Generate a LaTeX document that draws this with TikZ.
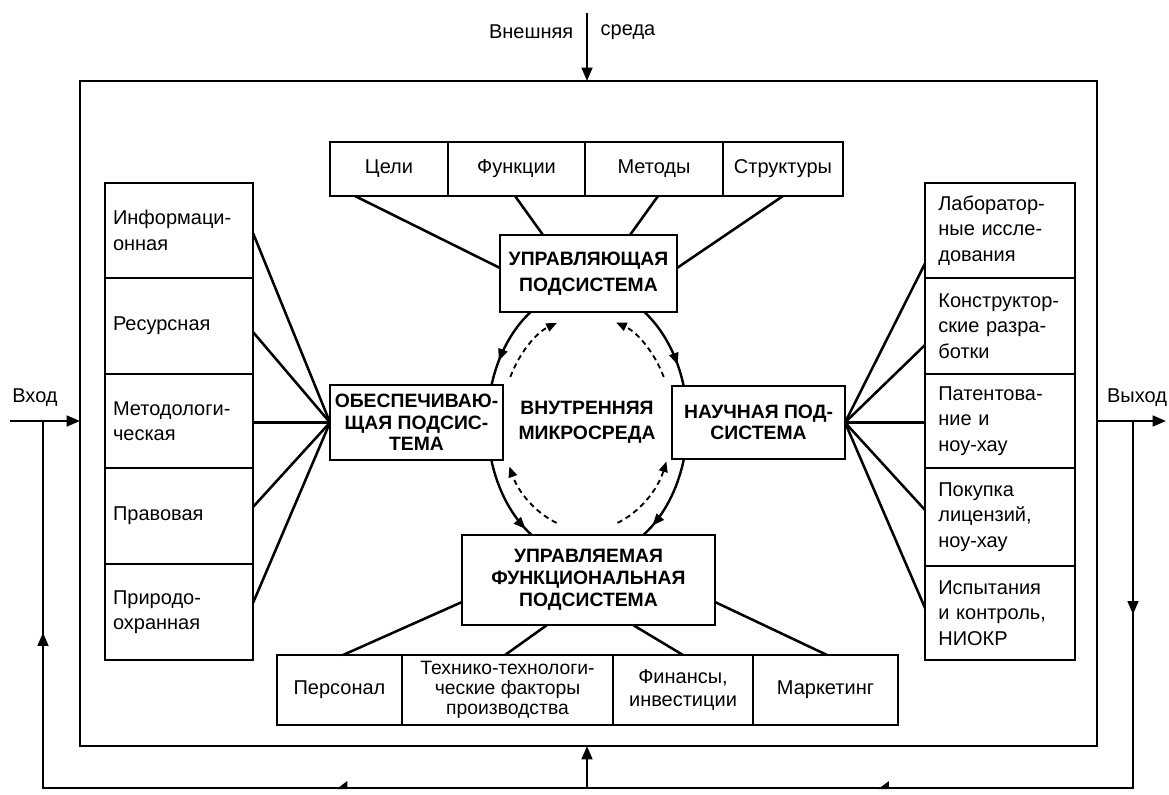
\documentclass[tikz,border=0pt]{standalone}
\usepackage{fontspec}
\setmainfont{Liberation Sans}
\usetikzlibrary{arrows.meta,calc,decorations.markings}
\newcommand\lbl{\fontsize{15}{19}\selectfont}
\newcommand\capf[1]{\fontsize{14.5}{#1}\selectfont\bfseries}

\begin{document}
\begin{tikzpicture}[x=0.75pt,y=0.75pt,
  box/.style={draw,line width=2.1pt,fill=white,inner sep=1pt,outer sep=0pt,align=center},
  sz/.style 2 args={minimum width=#1*0.75pt,minimum height=#2*0.75pt},
  lcol/.style={box,font=\lbl,align=left,text width=99pt,inner xsep=6pt,minimum width=111pt},
  rcol/.style={box,font=\lbl,align=left,text width=92.5pt,inner xsep=10pt,minimum width=112.5pt},
  conn/.style={line width=1.9pt},
  arr/.style={-{Triangle[length=10pt,width=8pt]}},
  ring/.style={line width=1.8pt},
  dring/.style={line width=1.4pt,dash pattern=on 4pt off 3pt,-{Triangle[length=8pt,width=6.5pt]}},
  midtip/.style={postaction={decorate},decoration={markings,
      mark=at position #1 with {\arrow{Triangle[length=9pt,width=7pt]}}}}
]
\useasboundingbox (0,0) rectangle (1169,-794);

% system boundary
\node[box,fill=none,sz={1017}{665}] (outer) at (588.5,-413.5) {};

% managing subsystem and its elements
\node[box,sz={118}{54},font=\lbl] (celi)   at (389,-169)   {Цели};
\node[box,sz={137}{54},font=\lbl] (funk)   at (516.5,-169) {Функции};
\node[box,sz={138}{54},font=\lbl] (metod)  at (654,-169)   {Методы};
\node[box,sz={120}{54},font=\lbl] (strukt) at (783,-169)   {Структуры};
\node[box,sz={177}{77},font={\capf{20}}] (upr) at (588.5,-273.5) {УПРАВЛЯЮЩАЯ\\ПОДСИСТЕМА};

% supporting subsystem
\node[lcol,minimum height=95*0.75pt] (inf)  at (179,-230.5) {Информаци-\\онная};
\node[lcol,minimum height=96*0.75pt] (res)  at (179,-326)   {Ресурсная};
\node[lcol,minimum height=94*0.75pt] (met)  at (179,-421)   {Методологи-\\ческая};
\node[lcol,minimum height=96*0.75pt] (prav) at (179,-516)   {Правовая};
\node[lcol,minimum height=96*0.75pt] (prir) at (179,-612)   {Природо-\\охранная};
\node[box,sz={173}{75},font={\capf{16}}] (obesp) at (416.5,-422.5) {ОБЕСПЕЧИВАЮ-\\ЩАЯ ПОДСИС-\\ТЕМА};

% scientific subsystem
\node[box,sz={173}{73},font={\capf{15.5}}] (nauch) at (758.5,-422.5) {НАУЧНАЯ ПОД-\\СИСТЕМА};
\node[rcol,minimum height=95*0.75pt] (lab) at (1000,-230.5) {Лаборатор-\\ные иссле-\\дования};
\node[rcol,minimum height=96*0.75pt] (kon) at (1000,-326)   {Конструктор-\\ские разра-\\ботки};
\node[rcol,minimum height=94*0.75pt] (pat) at (1000,-421)   {Патентова-\\ние и\\ноу-хау};
\node[rcol,minimum height=98*0.75pt] (pok) at (1000,-517)   {Покупка\\лицензий,\\ноу-хау};
\node[rcol,minimum height=94*0.75pt] (isp) at (1000,-613)   {Испытания\\и контроль,\\НИОКР};

% managed functional subsystem
\node[box,sz={253}{90},font={\capf{16.5}}] (upravl) at (588.5,-580) {УПРАВЛЯЕМАЯ\\ФУНКЦИОНАЛЬНАЯ\\ПОДСИСТЕМА};
\node[box,sz={125}{70},font=\lbl] (pers) at (339.5,-690) {Персонал};
\node[box,sz={211}{70},font={\fontsize{14.5}{15}\selectfont}] (tech) at (507.5,-690) {Технико-технологи-\\ческие факторы\\производства};
\node[box,sz={140}{70},font={\fontsize{15}{17.5}\selectfont}] (fin) at (683,-690) {Финансы,\\инвестиции};
\node[box,sz={145}{70},font=\lbl] (mark) at (825.5,-690) {Маркетинг};

% inner environment
\node[font={\capf{19}},align=center] (micro) at (587,-422) {ВНУТРЕННЯЯ\\МИКРОСРЕДА};

% links to the managing subsystem
\draw[conn] ($(celi.south)+(-34,0)$)  -- ($(upr.west)+(0,5.5)$);
\draw[conn] ($(funk.south)+(-1.5,0)$) -- ($(upr.north)+(-45.5,0)$);
\draw[conn] ($(metod.south)+(4,0)$)   -- ($(upr.north)+(41.5,0)$);
\draw[conn] (strukt.south)            -- ($(upr.east)+(0,5.5)$);

% links to the supporting subsystem
\draw[conn] ($(inf.east)+(0,-2.5)$) -- (obesp.west);
\draw[conn] ($(res.east)+(0,-6)$)   -- (obesp.west);
\draw[conn] (met.east |- obesp.west) -- (obesp.west);
\draw[conn] ($(prav.east)+(0,9)$)   -- (obesp.west);
\draw[conn] ($(prir.east)+(0,9)$)   -- (obesp.west);

% links to the scientific subsystem
\draw[conn] (nauch.east) -- ($(lab.west)+(0,-33)$);
\draw[conn] (nauch.east) -- ($(kon.west)+(0,-19)$);
\draw[conn] (nauch.east) -- (pat.west |- nauch.east);
\draw[conn] (nauch.east) -- ($(pok.west)+(0,7)$);
\draw[conn] (nauch.east) -- ($(isp.west)+(0,5)$);

% links to the managed subsystem
\draw[conn] ($(upravl.west)+(0,-22)$)    -- ($(pers.north)+(3.5,0)$);
\draw[conn] ($(upravl.south)+(-41.5,0)$) -- ($(tech.north)+(-2.5,0)$);
\draw[conn] ($(upravl.south)+(44.5,0)$)  -- (fin.north);
\draw[conn] ($(upravl.east)+(0,-22)$)    -- ($(mark.north)+(1.5,0)$);

% interaction ring: solid outer arcs
\coordinate (ctr) at (587.5,-423);
\draw[ring,midtip=0.7]  ($(ctr)+(124.7:100 and 135)$) arc[start angle=124.7,end angle=163.7,x radius=100,y radius=135];
\draw[ring,midtip=0.75] ($(ctr)+(55.3:100 and 135)$)  arc[start angle=55.3,end angle=16.3,x radius=100,y radius=135];
\draw[ring,midtip=0.9]  ($(ctr)+(195.9:100 and 135)$) arc[start angle=195.9,end angle=236.1,x radius=100,y radius=135];
\draw[ring,midtip=0.85] ($(ctr)+(344.5:100 and 135)$) arc[start angle=344.5,end angle=303.9,x radius=100,y radius=135];

% interaction ring: dashed inner arcs
\coordinate (ctrd) at (587,-423);
\draw[dring] ($(ctrd)+(154.5:85 and 107)$) arc[start angle=154.5,end angle=110.7,x radius=85,y radius=107];
\draw[dring] ($(ctrd)+(25.5:85 and 107)$)  arc[start angle=25.5,end angle=70,x radius=85,y radius=107];
\draw[dring] ($(ctrd)+(249:85 and 107)$)   arc[start angle=249,end angle=204,x radius=85,y radius=107];
\draw[dring] ($(ctrd)+(291:85 and 107)$)   arc[start angle=291,end angle=339,x radius=85,y radius=107];

% external environment
\coordinate (envtop) at (587,-13);
\draw[conn,arr] (envtop) -- (envtop |- outer.north);
\node[font=\lbl,anchor=east] (ext1) at (578,-32) {Внешняя};
\node[font=\lbl,anchor=west] (ext2) at (596,-32) {среда};

% input and output
\coordinate (inl) at (10,-421);
\coordinate (outr) at (1166,-421);
\draw[conn,arr] (inl) -- (inl -| outer.west);
\draw[conn,arr] (outr -| outer.east) -- (outr);
\node[font=\lbl] (vhod) at (35,-398) {Вход};
\node[font=\lbl] (vyhod) at (1137,-398) {Выход};

% feedback loop
\coordinate (fbr)  at (1133,-421);
\coordinate (fbbr) at (1133,-788);
\coordinate (fbbl) at (43,-788);
\coordinate (fbl)  at (43,-421);
\coordinate (fbc)  at (587,-788);
\draw[conn,postaction={decorate},decoration={markings,
    mark=at position 0.106 with {\arrow{Triangle[length=10pt,width=8pt]}},
    mark=at position 0.341 with {\arrow{Triangle[right,length=7pt,width=10pt]}},
    mark=at position 0.638 with {\arrow{Triangle[right,length=7pt,width=10pt]}},
    mark=at position 0.884 with {\arrow{Triangle[length=10pt,width=8pt]}}}]
  (fbr) -- (fbbr) -- (fbbl) -- (fbl);
\draw[conn,arr] (fbc) -- (fbc |- outer.south);
\end{tikzpicture}
\end{document}
